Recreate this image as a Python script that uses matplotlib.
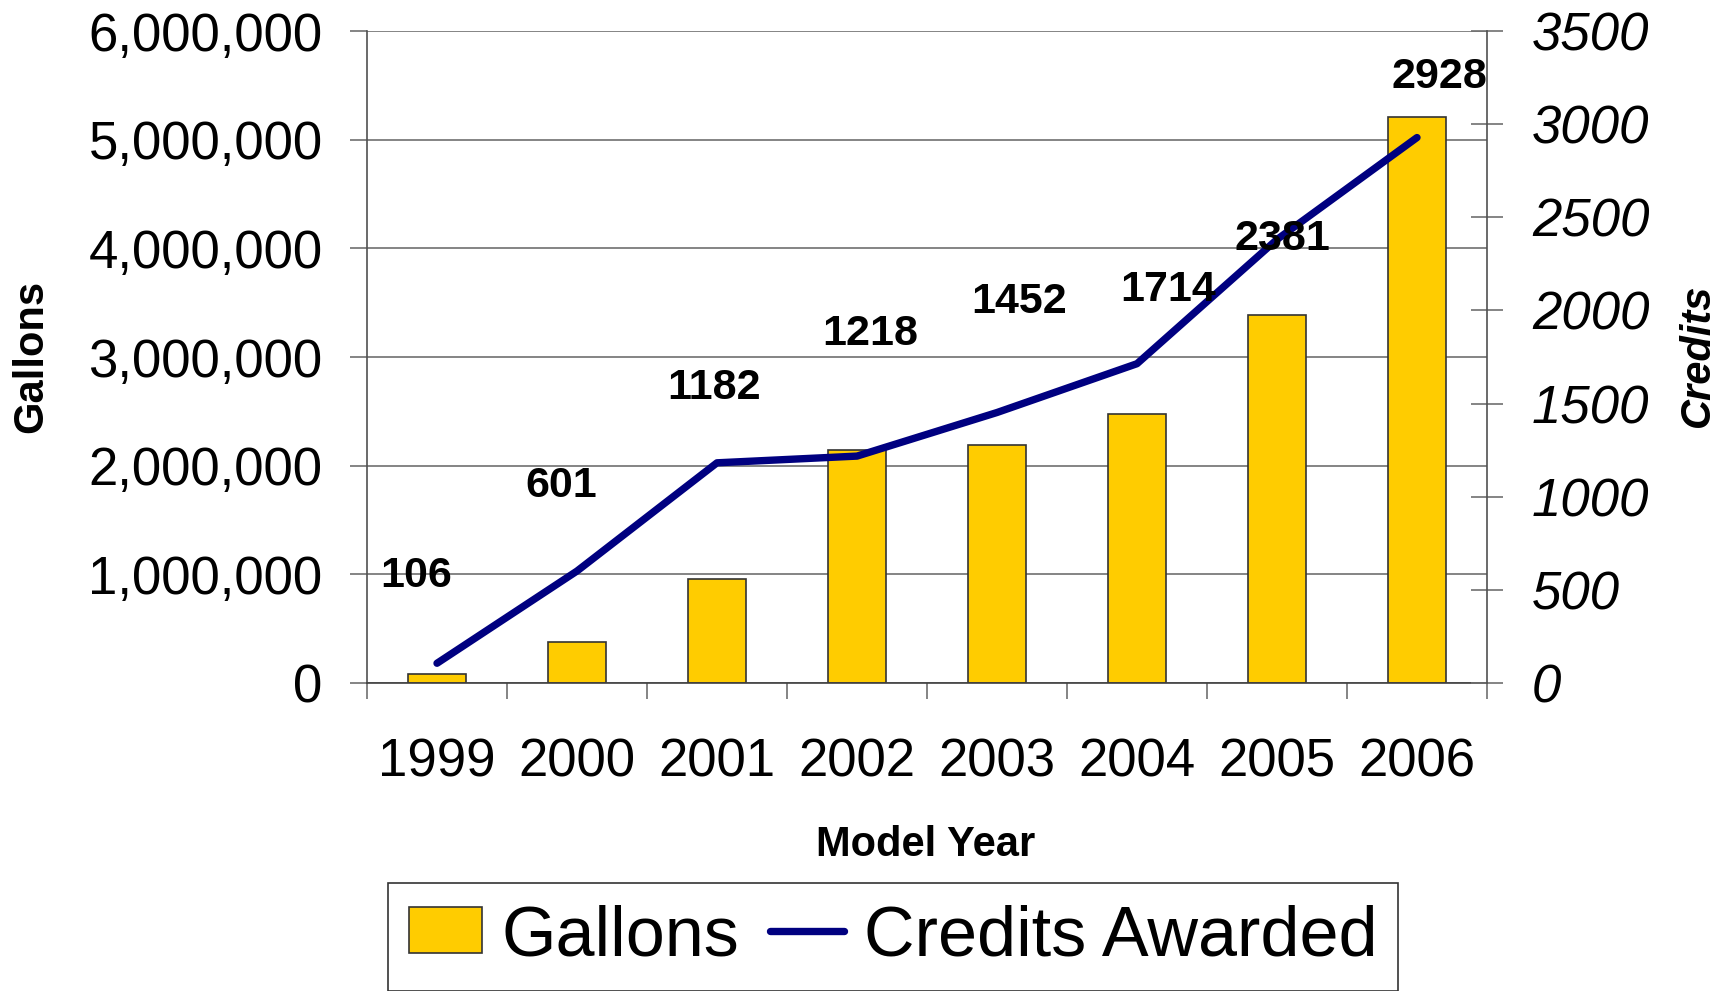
import numpy as np
import matplotlib.pyplot as plt
from matplotlib.ticker import FuncFormatter, MultipleLocator

plt.rcParams['font.family'] = ['Liberation Sans', 'DejaVu Sans']

years = ["1999", "2000", "2001", "2002", "2003", "2004", "2005", "2006"]
gallons = [85000, 380000, 960000, 2140000, 2190000, 2480000, 3385000, 5210000]
credits = [106, 601, 1182, 1218, 1452, 1714, 2381, 2928]

# label nudges (pixels) to mimic the hand-placed labels in the original
label_offsets = [(-21, 87), (-16, 85), (-3, 75), (13, 122),
                 (22, 111), (31, 74), (5, 0), (22, 61)]

bar_color = "#FFCC00"
line_color = "#000080"
grid_color = "#707070"

fig = plt.figure(figsize=(17.3, 9.91), dpi=100)
ax = fig.add_axes([367 / 1730, 1 - 683 / 991, 1120 / 1730, 652 / 991])
ax2 = ax.twinx()

x = np.arange(len(years))
bars = ax.bar(x, gallons, width=0.41, color=bar_color, edgecolor="#333333",
              linewidth=1.2, label="Gallons", zorder=2)

ax.set_xlim(-0.5, len(years) - 0.5)
ax.set_ylim(0, 6000000)
ax.yaxis.set_major_locator(MultipleLocator(1000000))
ax.yaxis.set_major_formatter(FuncFormatter(lambda v, p: f"{int(v):,}"))
ax.grid(axis="y", color=grid_color, linewidth=1.2, zorder=0)
ax.set_axisbelow(True)

ax.set_xticks(x)
ax.set_xticklabels(years)
ax.set_xticks(np.arange(-0.5, len(years)), minor=True)
ax.tick_params(axis="x", which="major", length=0, pad=39, labelsize=38)
ax.tick_params(axis="x", which="minor", length=11.5, width=1.2,
               direction="out", color=grid_color)
ax.tick_params(axis="y", length=12, width=1.2, color=grid_color,
               pad=20, labelsize=38)

for side in ["top", "right"]:
    ax.spines[side].set_visible(False)
ax.spines["left"].set_color("#505050")
ax.spines["bottom"].set_color("#404040")
ax.spines["left"].set_linewidth(1.2)
ax.spines["bottom"].set_linewidth(1.2)

line, = ax2.plot(x, credits, color=line_color, linewidth=5.3,
                 solid_capstyle="round", solid_joinstyle="round",
                 label="Credits Awarded", zorder=3)
ax2.set_ylim(0, 3500)
ax2.yaxis.set_major_locator(MultipleLocator(500))
ax2.tick_params(axis="y", direction="inout", length=23, width=1.2,
                color=grid_color, pad=21, labelsize=38)
for lab in ax2.get_yticklabels():
    lab.set_fontstyle("italic")
for side in ["top", "left", "bottom"]:
    ax2.spines[side].set_visible(False)
ax2.spines["right"].set_color("#505050")
ax2.spines["right"].set_linewidth(1.2)

for xi, c, (dx, dy) in zip(x, credits, label_offsets):
    ax2.annotate(str(c), (xi, c), xytext=(dx, dy), textcoords="offset pixels",
                 ha="center", va="center", fontsize=31, fontweight="bold",
                 zorder=4)

fig.text(31 / 1730, 1 - 356 / 991, "Gallons", rotation=90, ha="center",
         va="center", fontsize=30, fontweight="bold")
fig.text(1698 / 1730, 1 - 355 / 991, "Credits", rotation=90, ha="center",
         va="center", fontsize=30, fontweight="bold", fontstyle="italic")
fig.text(926 / 1730, 1 - 845 / 991, "Model Year", ha="center",
         va="center", fontsize=30, fontweight="bold")

leg = fig.legend([bars, line], ["Gallons", "Credits Awarded"], ncol=2,
                 loc="center", bbox_to_anchor=(893 / 1730, 1 - 937 / 991),
                 fontsize=50.5, handlelength=1.05, handleheight=0.63,
                 handletextpad=0.28, columnspacing=0.44, borderpad=0.3,
                 fancybox=False, frameon=True)
leg.get_frame().set_edgecolor("black")
leg.get_frame().set_linewidth(1.2)

fig.savefig("out.png", dpi=100)
